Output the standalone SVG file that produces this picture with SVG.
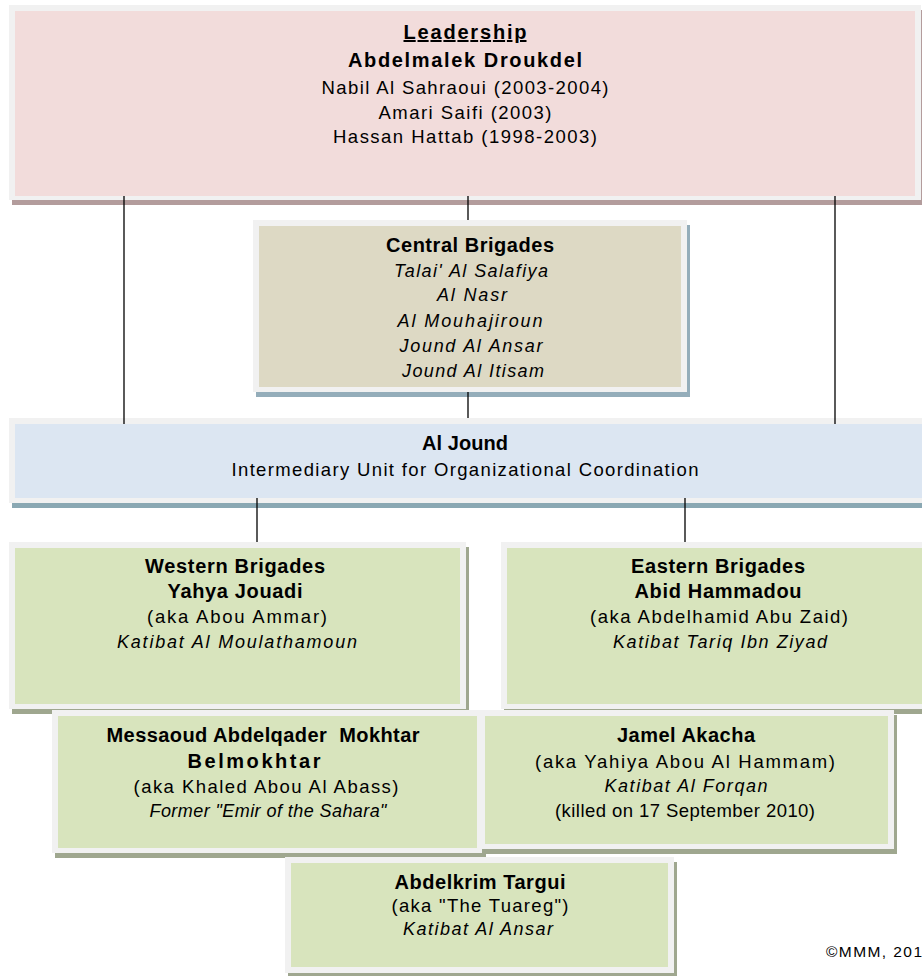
<svg xmlns="http://www.w3.org/2000/svg" width="922" height="976" viewBox="0 0 922 976">
<style>
text{font-family:"Liberation Sans",Arial,sans-serif;fill:#000;text-anchor:middle}
.b{font-size:20px;font-weight:bold}
.r{font-size:18.5px}
.i{font-size:18px;font-style:italic}
.frame{fill:#f1f1f1}
.line{stroke:#000;stroke-width:1.3;fill:none}
</style>
<rect width="922" height="976" fill="#fff"/>

<g id="leadership">
<rect x="12" y="10" width="912" height="195" fill="#b39c9c"/>
<rect class="frame" x="9" y="5" width="912" height="195"/>
<rect x="15" y="11" width="900" height="185" fill="#f2dcdb"/>
<text class="b" x="465" y="39" textLength="123" lengthAdjust="spacing" text-decoration="underline">Leadership</text>
<text class="b" x="465" y="67" textLength="234" lengthAdjust="spacing">Abdelmalek Droukdel</text>
<text class="r" x="465" y="94" textLength="287" lengthAdjust="spacing">Nabil Al Sahraoui (2003-2004)</text>
<text class="r" x="465" y="119" textLength="173" lengthAdjust="spacing">Amari Saifi (2003)</text>
<text class="r" x="465" y="143" textLength="264" lengthAdjust="spacing">Hassan Hattab (1998-2003)</text>
</g>

<g id="central">
<rect x="256" y="225" width="434" height="172" fill="#94adba"/>
<rect class="frame" x="253" y="220" width="434" height="172"/>
<rect x="259" y="226" width="422" height="161" fill="#ddd9c4"/>
<text class="b" x="470" y="252" textLength="168" lengthAdjust="spacing">Central Brigades</text>
<text class="i" x="471" y="277" textLength="154" lengthAdjust="spacing">Talai' Al Salafiya</text>
<text class="i" x="472" y="301" textLength="70" lengthAdjust="spacing">Al Nasr</text>
<text class="i" x="470" y="327" textLength="145" lengthAdjust="spacing">Al Mouhajiroun</text>
<text class="i" x="471" y="352" textLength="143" lengthAdjust="spacing">Jound Al Ansar</text>
<text class="i" x="473" y="377" textLength="142" lengthAdjust="spacing">Jound Al Itisam</text>
</g>

<g id="aljound">
<rect x="12" y="423" width="930" height="85" fill="#8aa8b3"/>
<rect class="frame" x="9" y="418" width="930" height="85"/>
<rect x="15" y="424" width="920" height="74" fill="#dce6f2"/>
<text class="b" x="465" y="450" textLength="86" lengthAdjust="spacing">Al Jound</text>
<text class="r" x="465" y="476" textLength="467" lengthAdjust="spacing">Intermediary Unit for Organizational Coordination</text>
</g>

<g id="western">
<rect x="12" y="547" width="457" height="167" fill="#9fa78f"/>
<rect class="frame" x="9" y="542" width="457" height="167"/>
<rect x="15" y="548" width="445" height="156" fill="#d8e4bd"/>
<text class="b" x="235" y="573" textLength="180" lengthAdjust="spacing">Western Brigades</text>
<text class="b" x="235" y="598" textLength="135" lengthAdjust="spacing">Yahya Jouadi</text>
<text class="r" x="237" y="623" textLength="180" lengthAdjust="spacing">(aka Abou Ammar)</text>
<text class="i" x="237" y="648" textLength="240" lengthAdjust="spacing">Katibat Al Moulathamoun</text>
</g>

<g id="eastern">
<rect x="504" y="547" width="440" height="167" fill="#9fa78f"/>
<rect class="frame" x="501" y="542" width="440" height="167"/>
<rect x="507" y="548" width="425" height="156" fill="#d8e4bd"/>
<text class="b" x="718" y="573" textLength="174" lengthAdjust="spacing">Eastern Brigades</text>
<text class="b" x="718" y="598" textLength="167" lengthAdjust="spacing">Abid Hammadou</text>
<text class="r" x="719" y="623" textLength="258" lengthAdjust="spacing">(aka Abdelhamid Abu Zaid)</text>
<text class="i" x="720" y="648" textLength="214" lengthAdjust="spacing">Katibat Tariq Ibn Ziyad</text>
</g>

<g id="messaoud">
<rect x="55" y="715" width="431" height="143" fill="#9fa78f"/>
<rect class="frame" x="52" y="710" width="431" height="143"/>
<rect x="58" y="716" width="419" height="132" fill="#d8e4bd"/>
<text class="b" x="263" y="742" textLength="313" lengthAdjust="spacing">Messaoud Abdelqader&#160; Mokhtar</text>
<text class="b" x="254" y="768" textLength="133" lengthAdjust="spacing">Belmokhtar</text>
<text class="r" x="266" y="793" textLength="265" lengthAdjust="spacing">(aka Khaled Abou Al Abass)</text>
<text class="i" x="268" y="817" textLength="237" lengthAdjust="spacing">Former "Emir of the Sahara"</text>
</g>

<g id="jamel">
<rect x="482" y="715" width="415" height="139" fill="#9fa78f"/>
<rect class="frame" x="479" y="710" width="415" height="139"/>
<rect x="485" y="716" width="403" height="128" fill="#d8e4bd"/>
<text class="b" x="686" y="742" textLength="138" lengthAdjust="spacing">Jamel Akacha</text>
<text class="r" x="685" y="768" textLength="300" lengthAdjust="spacing">(aka Yahiya Abou Al Hammam)</text>
<text class="i" x="686" y="792" textLength="163" lengthAdjust="spacing">Katibat Al Forqan</text>
<text class="r" x="685" y="817" textLength="260" lengthAdjust="spacing">(killed on 17 September 2010)</text>
</g>

<g id="abdelkrim">
<rect x="288" y="862" width="389" height="116" fill="#9fa78f"/>
<rect class="frame" x="285" y="857" width="389" height="116"/>
<rect x="291" y="863" width="377" height="104" fill="#d8e4bd"/>
<text class="b" x="480" y="889" textLength="171" lengthAdjust="spacing">Abdelkrim Targui</text>
<text class="r" x="480" y="912" textLength="177" lengthAdjust="spacing">(aka "The Tuareg")</text>
<text class="i" x="478" y="935" textLength="150" lengthAdjust="spacing">Katibat Al Ansar</text>
</g>

<g id="connectors">
<line class="line" x1="124" y1="196" x2="124" y2="424"/>
<line class="line" x1="468" y1="196" x2="468" y2="220"/>
<line class="line" x1="468" y1="392" x2="468" y2="418"/>
<line class="line" x1="835" y1="196" x2="835" y2="424"/>
<line class="line" x1="257" y1="498" x2="257" y2="542"/>
<line class="line" x1="685" y1="498" x2="685" y2="542"/>
</g>

<text x="826" y="957" style="font-size:15.5px;text-anchor:start" textLength="96" lengthAdjust="spacing">©MMM, 201</text>
</svg>
